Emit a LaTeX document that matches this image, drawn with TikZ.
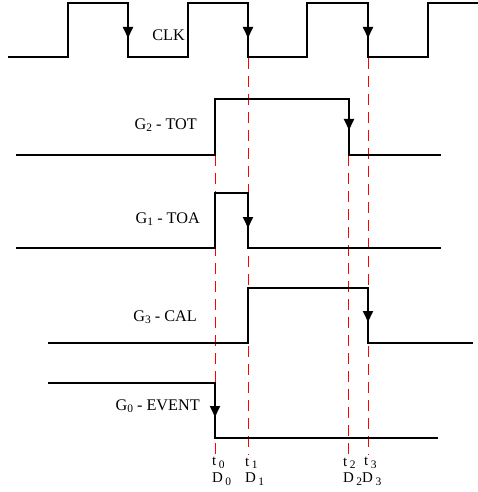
\documentclass[tikz,border=0pt]{standalone}
\usepackage{fontspec}
\setmainfont{Liberation Serif}
\usetikzlibrary{arrows.meta}
\newcommand{\lowsub}[1]{\raisebox{-0.35ex}{\fontsize{11.5}{11.5}\selectfont #1}}
\begin{document}
\begin{tikzpicture}[x=1bp,y=-1bp,
  wave/.style={line width=1.8bp,line join=miter},
  edgearrow/.style={line width=1.8bp,-{Triangle[length=11bp,width=10bp]}},
  guide/.style={red,line width=1.4bp,dash pattern=on 11bp off 7bp},
  lbl/.style={anchor=east,inner sep=0pt,font=\fontsize{16.3}{18}\selectfont},
  tlbl/.style={anchor=west,inner sep=0pt,font=\fontsize{15}{17}\selectfont}]
\useasboundingbox (0,0) rectangle (478,492);
% guide lines
\coordinate (g0t) at (215.5,155); \coordinate (g0b) at (215.5,455);
\coordinate (g1t) at (248.5,58);  \coordinate (g1b) at (248.5,455);
\coordinate (g2t) at (348.5,155); \coordinate (g2b) at (348.5,455);
\coordinate (g3t) at (368.5,58);  \coordinate (g3b) at (368.5,455);
\draw[guide] (g0t) -- (g0b);
\draw[guide] (g1t) -- (g1b);
\draw[guide] (g2t) -- (g2b);
\draw[guide] (g3t) -- (g3b);
% CLK
\draw[wave] (8,57) -- (68,57) -- (68,3) -- (128,3) -- (128,57) -- (188,57) -- (188,3) -- (248,3) -- (248,57) -- (307,57) -- (307,3) -- (368,3) -- (368,57) -- (428,57) -- (428,3) -- (478,3);
\coordinate (c1a) at (128,3); \coordinate (c1b) at (128,38);
\coordinate (c2a) at (248,3); \coordinate (c2b) at (248,38);
\coordinate (c3a) at (368,3); \coordinate (c3b) at (368,38);
\draw[edgearrow] (c1a) -- (c1b);
\draw[edgearrow] (c2a) -- (c2b);
\draw[edgearrow] (c3a) -- (c3b);
\node[lbl] (clk) at (185,35) {CLK};
% G2 TOT
\draw[wave] (16,155) -- (215,155) -- (215,99) -- (349,99) -- (349,155) -- (441,155);
\coordinate (a2a) at (349,99); \coordinate (a2b) at (349,130);
\draw[edgearrow] (a2a) -- (a2b);
\node[lbl] (tot) at (197,125) {G\lowsub{2} - TOT};
% G1 TOA
\draw[wave] (16,248) -- (215,248) -- (215,193) -- (248,193) -- (248,248) -- (441,248);
\coordinate (a1a) at (248,193); \coordinate (a1b) at (248,228);
\draw[edgearrow] (a1a) -- (a1b);
\node[lbl] (toa) at (200,219) {G\lowsub{1} - TOA};
% G3 CAL
\draw[wave] (48,343) -- (248,343) -- (248,288) -- (368,288) -- (368,343) -- (473,343);
\coordinate (a3a) at (368,288); \coordinate (a3b) at (368,322);
\draw[edgearrow] (a3a) -- (a3b);
\node[lbl] (cal) at (197,317) {G\lowsub{3} - CAL};
% G0 EVENT
\draw[wave] (48,383) -- (215,383) -- (215,438) -- (438,438);
\coordinate (a0a) at (215,383); \coordinate (a0b) at (215,417);
\draw[edgearrow] (a0a) -- (a0b);
\node[lbl] (evt) at (200,406) {G\lowsub{0} - EVENT};
% time labels
\node[tlbl] (t0) at (212,463) {t\,\lowsub{0}};
\node[tlbl] (d0) at (212,479) {D\,\lowsub{0}};
\node[tlbl] (t1) at (245,463) {t\,\lowsub{1}};
\node[tlbl] (d1) at (245,479) {D\,\lowsub{1}};
\node[tlbl] (t2) at (343,463) {t\,\lowsub{2}};
\node[tlbl] (t3) at (364,463) {t\,\lowsub{3}};
\node[tlbl] (d2) at (343,479) {D\,\lowsub{2}D\,\lowsub{3}};
\end{tikzpicture}
\end{document}
